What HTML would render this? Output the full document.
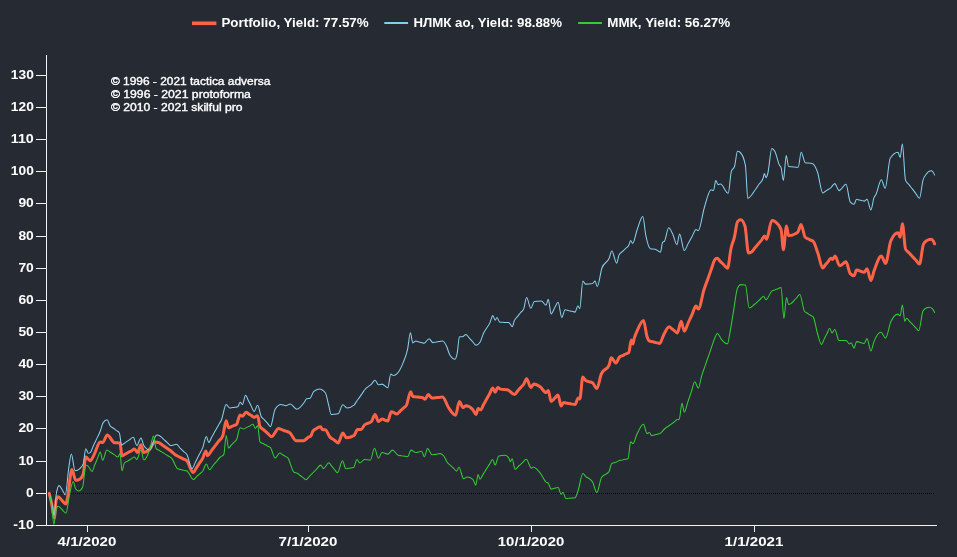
<!DOCTYPE html>
<html lang="en"><head><meta charset="utf-8"><title>Portfolio yield chart</title>
<style>html,body{margin:0;padding:0;background:#262a33;overflow:hidden}</style></head>
<body>
<svg width="957" height="557" viewBox="0 0 957 557" style="display:block;font-family:'Liberation Sans',sans-serif">
<rect width="957" height="557" fill="#262a33"/>
<g font-size="13.5" font-weight="bold" fill="#fff">
<rect x="192" y="21.5" width="24.4" height="3.6" fill="tomato"/>
<text x="221.4" y="26.9" textLength="147.3" lengthAdjust="spacingAndGlyphs">Portfolio, Yield: 77.57%</text>
<rect x="384.3" y="22" width="23.8" height="2" fill="skyblue"/>
<text x="413.5" y="26.9" textLength="148.4" lengthAdjust="spacingAndGlyphs">НЛМК ао, Yield: 98.88%</text>
<rect x="578.1" y="22" width="23.8" height="2" fill="limegreen"/>
<text x="607.3" y="26.9" textLength="122.9" lengthAdjust="spacingAndGlyphs">ММК, Yield: 56.27%</text>
</g>
<g font-size="10.5" fill="#fff" stroke="#fff" stroke-width="0.35">
<text x="110.9" y="85" textLength="159.4" lengthAdjust="spacingAndGlyphs">© 1996 - 2021 tactica adversa</text>
<text x="110.9" y="98" textLength="140" lengthAdjust="spacingAndGlyphs">© 1996 - 2021 protoforma</text>
<text x="110.9" y="111" textLength="131.6" lengthAdjust="spacingAndGlyphs">© 2010 - 2021 skilful pro</text>
</g>
<g stroke="#f2f2f2" stroke-width="1" shape-rendering="crispEdges">
<line x1="46.5" x2="46.5" y1="55" y2="526"/>
<line x1="36" x2="937" y1="525.5" y2="525.5"/>
<line x1="36" x2="46" y1="525.5" y2="525.5"/>
<line x1="36" x2="46" y1="493.5" y2="493.5"/>
<line x1="36" x2="46" y1="461.5" y2="461.5"/>
<line x1="36" x2="46" y1="428.5" y2="428.5"/>
<line x1="36" x2="46" y1="396.5" y2="396.5"/>
<line x1="36" x2="46" y1="364.5" y2="364.5"/>
<line x1="36" x2="46" y1="332.5" y2="332.5"/>
<line x1="36" x2="46" y1="300.5" y2="300.5"/>
<line x1="36" x2="46" y1="268.5" y2="268.5"/>
<line x1="36" x2="46" y1="236.5" y2="236.5"/>
<line x1="36" x2="46" y1="203.5" y2="203.5"/>
<line x1="36" x2="46" y1="171.5" y2="171.5"/>
<line x1="36" x2="46" y1="139.5" y2="139.5"/>
<line x1="36" x2="46" y1="107.5" y2="107.5"/>
<line x1="36" x2="46" y1="75.5" y2="75.5"/>
<line x1="87.5" x2="87.5" y1="526" y2="532"/>
<line x1="308.5" x2="308.5" y1="526" y2="532"/>
<line x1="531.5" x2="531.5" y1="526" y2="532"/>
<line x1="754.5" x2="754.5" y1="526" y2="532"/>
</g>
<g font-size="12.5" font-weight="bold" fill="#fff">
<text x="13.3" y="528.7" textLength="20.5" lengthAdjust="spacingAndGlyphs">-10</text>
<text x="26.1" y="496.6" textLength="7.7" lengthAdjust="spacingAndGlyphs">0</text>
<text x="18.4" y="464.5" textLength="15.4" lengthAdjust="spacingAndGlyphs">10</text>
<text x="18.4" y="432.3" textLength="15.4" lengthAdjust="spacingAndGlyphs">20</text>
<text x="18.4" y="400.2" textLength="15.4" lengthAdjust="spacingAndGlyphs">30</text>
<text x="18.4" y="368.0" textLength="15.4" lengthAdjust="spacingAndGlyphs">40</text>
<text x="18.4" y="335.9" textLength="15.4" lengthAdjust="spacingAndGlyphs">50</text>
<text x="18.4" y="303.8" textLength="15.4" lengthAdjust="spacingAndGlyphs">60</text>
<text x="18.4" y="271.6" textLength="15.4" lengthAdjust="spacingAndGlyphs">70</text>
<text x="18.4" y="239.5" textLength="15.4" lengthAdjust="spacingAndGlyphs">80</text>
<text x="18.4" y="207.3" textLength="15.4" lengthAdjust="spacingAndGlyphs">90</text>
<text x="10.8" y="175.2" textLength="23" lengthAdjust="spacingAndGlyphs">100</text>
<text x="10.8" y="143.1" textLength="23" lengthAdjust="spacingAndGlyphs">110</text>
<text x="10.8" y="110.9" textLength="23" lengthAdjust="spacingAndGlyphs">120</text>
<text x="10.8" y="78.8" textLength="23" lengthAdjust="spacingAndGlyphs">130</text>
<text x="57.6" y="546" textLength="58.8" lengthAdjust="spacingAndGlyphs">4/1/2020</text>
<text x="278.6" y="546" textLength="58.8" lengthAdjust="spacingAndGlyphs">7/1/2020</text>
<text x="497.8" y="546" textLength="66.5" lengthAdjust="spacingAndGlyphs">10/1/2020</text>
<text x="724.6" y="546" textLength="58.8" lengthAdjust="spacingAndGlyphs">1/1/2021</text>
</g>
<line x1="47" x2="935" y1="493.5" y2="493.5" stroke="#000" stroke-width="1" stroke-dasharray="1,1" shape-rendering="crispEdges"/>
<g fill="none" stroke-linejoin="round" stroke-linecap="round">
<path d="M49.2,493.4C50.0,496.6,50.7,499.4,51.5,503.0C52.4,507.4,53.4,517.9,54.3,517.9C54.9,517.9,55.6,502.0,56.2,500.0C56.9,497.9,57.5,496.8,58.2,496.8C59.5,496.8,60.7,499.3,62.0,500.5C63.3,501.8,64.7,504.1,66.0,504.1C66.5,504.1,67.0,500.2,67.5,497.8C69.0,490.8,70.4,469.6,71.9,469.6C73.2,469.6,74.4,480.3,75.7,480.3C77.2,480.3,78.6,479.9,80.1,479.0C81.1,478.4,82.2,477.3,83.2,474.0C84.1,471.2,84.9,457.0,85.8,457.0C87.3,457.0,88.7,460.8,90.2,460.8C91.4,460.8,92.7,457.3,93.9,455.1C96.0,451.4,98.1,441.9,100.2,441.9C101.0,441.9,101.9,442.6,102.7,442.6C104.2,442.6,105.7,435.0,107.2,435.0C109.7,435.0,112.1,442.4,114.6,442.7C116.4,442.9,118.2,442.8,120.0,443.0C120.7,443.1,121.3,456.0,122.0,456.0C123.0,456.0,124.1,454.8,125.1,454.2C126.2,453.7,127.2,453.1,128.2,452.5C129.3,451.9,130.3,451.3,131.4,450.8C132.4,450.2,133.5,449.0,134.5,449.0C135.5,449.0,136.5,452.5,137.5,452.5C138.7,452.5,139.8,444.8,141.0,444.8C141.9,444.8,142.9,452.5,143.8,452.5C145.7,452.5,147.7,451.3,149.6,449.4C151.3,447.7,153.1,442.0,154.8,442.0C156.2,442.0,157.6,442.2,159.0,442.7C160.3,443.1,161.6,444.5,162.9,445.4C164.2,446.3,165.4,447.2,166.7,448.1C168.0,449.0,169.3,449.8,170.6,450.8C172.2,452.0,173.7,453.7,175.3,454.8C176.6,455.7,177.9,456.2,179.2,456.9C180.5,457.6,181.8,458.2,183.1,458.9C184.4,459.6,185.7,459.6,187.0,461.0C189.1,463.2,191.1,472.6,193.2,472.6C194.3,472.6,195.3,469.4,196.4,467.8C197.5,466.2,198.5,464.5,199.6,462.9C200.7,461.3,201.7,460.1,202.8,458.1C203.8,456.1,204.9,451.1,205.9,451.1C206.4,451.1,207.0,455.8,207.5,455.8C208.8,455.8,210.0,452.5,211.3,450.9C212.6,449.2,213.8,447.6,215.1,445.9C216.4,444.2,217.6,442.6,218.9,440.9C220.2,439.3,221.4,439.3,222.7,436.0C223.9,433.0,225.0,420.8,226.2,420.8C227.0,420.8,227.7,427.8,228.5,427.8C229.4,427.8,230.3,427.0,231.2,426.6C232.1,426.2,233.0,425.9,233.9,425.5C234.8,425.1,235.7,425.1,236.6,424.3C237.8,423.3,238.9,415.0,240.1,415.0C240.9,415.0,241.7,416.2,242.5,416.2C243.7,416.2,244.8,412.2,246.0,412.2C246.9,412.2,247.8,413.3,248.7,413.9C249.6,414.5,250.5,415.0,251.4,415.6C252.3,416.2,253.2,417.3,254.1,417.3C255.3,417.3,256.4,415.7,257.6,415.7C258.4,415.7,259.2,425.2,260.0,426.6C261.3,428.8,262.6,428.8,263.9,430.0C265.2,431.1,266.4,432.2,267.7,433.3C269.0,434.5,270.3,436.7,271.6,436.7C273.9,436.7,276.3,428.5,278.6,428.5C279.8,428.5,281.0,429.4,282.2,429.8C283.4,430.3,284.7,430.7,285.9,431.2C287.1,431.6,288.3,431.7,289.5,432.5C291.8,434.0,294.0,440.8,296.3,440.8C298.7,440.8,301.1,440.8,303.5,440.8C305.0,440.8,306.5,438.5,308.0,437.5C309.0,436.8,310.0,436.9,311.0,435.7C311.6,435.0,312.1,432.5,312.7,431.5C313.8,429.6,314.9,429.4,316.0,428.7C317.5,427.7,319.0,426.7,320.5,426.7C321.2,426.7,322.0,429.8,322.7,429.8C323.6,429.8,324.4,429.7,325.3,429.7C326.9,429.7,328.4,435.5,330.0,437.1C330.9,438.0,331.8,438.4,332.7,439.1C333.6,439.7,334.5,440.4,335.4,441.0C336.3,441.7,337.2,443.0,338.1,443.0C339.7,443.0,341.2,433.1,342.8,433.1C344.0,433.1,345.3,437.8,346.5,437.8C349.0,437.8,351.5,437.0,354.0,435.5C355.2,434.8,356.3,429.6,357.5,429.6C358.7,429.6,359.8,429.6,361.0,429.6C362.2,429.6,363.3,426.2,364.5,425.0C366.8,422.7,369.2,423.8,371.5,421.5C372.7,420.3,373.8,414.5,375.0,414.5C376.2,414.5,377.3,421.5,378.5,421.5C379.7,421.5,380.8,419.1,382.0,419.1C383.9,419.1,385.9,421.0,387.8,421.0C389.0,421.0,390.1,411.7,391.3,411.7C393.2,411.7,395.2,414.0,397.1,414.0C398.1,414.0,399.2,412.0,400.2,411.0C401.3,410.0,402.3,409.1,403.4,408.1C404.4,407.1,405.5,407.1,406.5,405.1C407.9,402.4,409.3,391.8,410.7,391.8C411.4,391.8,412.1,396.3,412.8,396.5C413.9,396.8,415.0,396.8,416.1,396.9C417.2,397.0,418.4,397.2,419.5,397.3C420.6,397.4,421.7,397.4,422.8,397.7C423.6,397.9,424.3,399.3,425.1,399.3C426.1,399.3,427.2,394.6,428.2,394.6C429.5,394.6,430.8,398.1,432.1,398.1C433.3,398.1,434.4,397.9,435.6,397.7C436.8,397.6,437.9,397.5,439.1,397.4C440.3,397.2,441.4,397.0,442.6,397.0C444.6,397.0,446.5,404.6,448.5,407.5C450.8,410.9,453.2,415.2,455.5,415.2C456.8,415.2,458.1,401.6,459.4,401.6C460.6,401.6,461.9,407.5,463.1,407.5C464.0,407.5,465.0,405.8,465.9,405.8C468.2,405.8,470.6,407.1,472.9,409.8C473.9,411.0,475.0,414.5,476.0,414.5C476.7,414.5,477.4,408.6,478.1,408.6C478.9,408.6,479.8,409.8,480.6,409.8C481.6,409.8,482.6,406.2,483.7,404.4C484.7,402.5,485.7,400.7,486.7,398.9C487.7,397.1,488.7,395.3,489.8,393.4C490.8,391.6,491.8,388.0,492.8,388.0C493.6,388.0,494.3,392.2,495.1,392.2C496.0,392.2,496.9,387.5,497.8,387.5C498.7,387.5,499.6,388.9,500.5,389.1C502.8,389.6,505.2,389.3,507.5,389.8C509.8,390.3,512.2,394.5,514.5,394.5C515.5,394.5,516.6,392.2,517.6,391.0C518.6,389.8,519.7,388.7,520.7,387.5C521.7,386.3,522.8,385.6,523.8,384.0C524.7,382.6,525.7,378.8,526.6,378.8C528.0,378.8,529.4,387.5,530.8,387.5C531.8,387.5,532.8,384.0,533.8,384.0C535.9,384.0,538.0,385.3,540.1,386.8C542.1,388.2,544.0,392.6,546.0,392.6C546.8,392.6,547.5,390.5,548.3,390.5C549.2,390.5,550.2,401.5,551.1,401.5C552.3,401.5,553.6,399.2,554.8,398.0C555.9,397.0,557.0,394.9,558.1,394.9C559.1,394.9,560.1,406.1,561.1,406.1C561.9,406.1,562.7,402.6,563.5,402.6C564.8,402.6,566.1,403.0,567.4,403.2C568.7,403.4,569.9,403.7,571.2,403.9C572.5,404.1,573.8,404.5,575.1,404.5C576.1,404.5,577.2,398.0,578.2,398.0C578.7,398.0,579.3,399.1,579.8,399.1C580.8,399.1,581.8,377.0,582.8,377.0C583.7,377.0,584.7,379.9,585.6,380.5C587.9,382.0,590.3,381.3,592.6,382.8C594.0,383.7,595.4,388.6,596.8,388.6C598.4,388.6,599.9,376.9,601.5,373.5C604.0,368.0,606.5,370.8,609.0,365.3C609.8,363.6,610.5,357.8,611.3,357.8C612.9,357.8,614.4,363.0,616.0,363.0C617.1,363.0,618.3,358.2,619.4,357.1C620.4,356.1,621.5,356.1,622.5,355.6C623.6,355.1,624.6,354.5,625.7,354.0C626.7,353.5,627.8,353.5,628.8,352.5C629.6,351.7,630.5,340.0,631.3,340.0C631.8,340.0,632.4,344.0,632.9,344.0C633.3,344.0,633.8,340.1,634.2,338.5C635.1,335.2,636.0,333.6,636.9,331.5C639.1,326.4,641.3,320.5,643.5,320.5C644.7,320.5,645.8,333.0,647.0,336.5C647.8,338.8,648.5,340.6,649.3,341.0C650.5,341.5,651.6,341.5,652.8,341.8C654.0,342.1,655.1,342.3,656.3,342.6C657.5,342.9,658.6,343.4,659.8,343.4C661.0,343.4,662.1,338.0,663.3,335.7C665.3,331.9,667.2,326.7,669.2,326.7C670.1,326.7,671.0,328.1,671.9,328.8C672.8,329.5,673.7,330.2,674.6,330.9C675.5,331.6,676.4,333.0,677.3,333.0C678.6,333.0,679.9,321.3,681.2,321.3C682.2,321.3,683.3,331.2,684.3,331.2C685.6,331.2,686.9,325.6,688.2,322.8C689.5,320.0,690.8,317.3,692.1,314.5C693.4,311.7,694.7,306.1,696.0,306.1C696.8,306.1,697.5,309.1,698.3,309.1C700.2,309.1,702.2,295.1,704.1,289.3C705.3,285.8,706.4,282.8,707.6,279.6C708.8,276.3,709.9,273.1,711.1,269.8C712.3,266.6,713.4,261.9,714.6,260.1C715.4,258.9,716.2,258.3,717.0,258.3C718.2,258.3,719.3,260.5,720.5,261.6C721.7,262.7,722.8,263.9,724.0,265.0C725.2,266.1,726.3,268.3,727.5,268.3C728.7,268.3,729.8,253.8,731.0,248.5C732.2,243.2,733.3,241.8,734.5,236.8C735.5,232.5,736.5,222.9,737.5,221.7C738.6,220.4,739.7,219.8,740.8,219.8C742.2,219.8,743.6,222.0,745.0,226.3C746.2,229.9,747.3,253.1,748.5,253.1C749.5,253.1,750.5,252.7,751.5,252.0C752.6,251.2,753.7,249.4,754.8,248.0C755.9,246.7,757.0,245.4,758.1,244.1C759.3,242.7,760.4,241.4,761.5,240.1C762.6,238.7,763.7,236.1,764.8,236.1C765.4,236.1,766.0,239.2,766.6,239.2C768.3,239.2,770.1,220.5,771.8,220.5C773.0,220.5,774.1,220.9,775.3,221.7C777.2,223.0,779.2,224.4,781.1,229.8C781.9,231.9,782.6,249.7,783.4,249.7C784.4,249.7,785.5,225.9,786.5,225.9C787.2,225.9,787.9,235.7,788.6,235.7C791.2,235.7,793.7,234.9,796.3,233.3C796.9,232.9,797.6,232.5,798.2,231.5C799.1,230.0,800.1,224.5,801.0,224.5C802.4,224.5,803.8,235.8,805.2,237.3C806.1,238.2,807.0,238.2,807.9,238.7C808.8,239.2,809.7,239.6,810.6,240.1C811.5,240.6,812.4,240.6,813.3,241.5C814.9,243.1,816.4,249.2,818.0,253.6C819.6,258.0,821.1,268.1,822.7,268.1C823.6,268.1,824.5,265.9,825.4,264.8C826.3,263.7,827.2,262.7,828.1,261.6C829.0,260.5,829.9,258.3,830.8,258.3C831.4,258.3,832.1,259.5,832.7,259.5C833.5,259.5,834.2,256.0,835.0,256.0C836.6,256.0,838.1,265.8,839.7,265.8C841.8,265.8,843.9,261.8,846.0,261.8C847.4,261.8,848.8,271.8,850.2,273.5C851.5,275.0,852.8,275.8,854.1,275.8C854.9,275.8,855.7,270.0,856.5,270.0C859.1,270.0,861.6,272.3,864.2,272.3C865.1,272.3,866.1,268.8,867.0,268.8C868.3,268.8,869.6,280.5,870.9,280.5C871.9,280.5,873.0,273.9,874.0,271.1C876.5,264.3,878.9,256.0,881.4,256.0C882.8,256.0,884.2,263.4,885.6,263.4C887.3,263.4,889.1,244.7,890.8,240.8C893.2,235.4,895.6,232.7,898.0,232.7C898.7,232.7,899.4,237.3,900.1,237.3C900.9,237.3,901.6,223.8,902.4,223.8C903.4,223.8,904.5,246.8,905.5,249.0C906.7,251.5,907.8,251.5,909.0,252.8C910.2,254.0,911.3,255.3,912.5,256.6C913.7,257.8,914.8,259.1,916.0,260.3C917.2,261.6,918.3,264.1,919.5,264.1C920.8,264.1,922.1,247.2,923.4,244.3C924.4,242.0,925.5,241.5,926.5,240.8C928.0,239.7,929.6,239.2,931.1,239.2C931.7,239.2,932.4,239.6,933.0,240.5C933.5,241.2,934.1,242.7,934.6,243.8" stroke="tomato" stroke-width="3"/>
<path d="M49.2,493.4C50.0,496.3,50.7,498.8,51.5,502.0C52.4,505.9,53.4,515.3,54.3,515.3C55.0,515.3,55.6,498.0,56.3,494.0C57.2,488.4,58.2,485.6,59.1,485.6C60.2,485.6,61.2,488.4,62.3,490.0C63.3,491.5,64.3,494.7,65.3,494.7C66.5,494.7,67.6,475.2,68.8,467.7C69.6,462.3,70.5,453.9,71.3,453.9C72.6,453.9,73.8,470.8,75.1,470.8C76.8,470.8,78.4,470.0,80.1,468.3C81.1,467.3,82.2,466.8,83.2,463.9C84.1,461.4,84.9,448.8,85.8,448.8C86.6,448.8,87.5,453.2,88.3,453.2C88.9,453.2,89.6,453.0,90.2,452.6C91.3,451.9,92.4,447.9,93.5,445.5C94.6,443.1,95.8,440.8,96.9,438.4C98.0,436.0,99.1,434.2,100.2,431.3C101.1,428.9,102.1,424.3,103.0,422.9C104.4,420.8,105.8,419.8,107.2,419.8C108.1,419.8,109.1,424.3,110.0,425.7C111.0,427.2,112.1,427.3,113.1,428.0C114.1,428.8,115.2,429.6,116.2,430.4C117.2,431.1,118.3,431.1,119.3,432.7C120.1,433.9,120.8,445.0,121.6,445.0C122.9,445.0,124.2,443.3,125.5,442.4C126.8,441.6,128.1,440.7,129.4,439.9C130.7,439.0,132.0,437.3,133.3,437.3C134.5,437.3,135.6,445.5,136.8,445.5C138.2,445.5,139.6,438.0,141.0,438.0C141.9,438.0,142.9,444.1,143.8,445.5C145.7,448.5,147.7,450.0,149.6,450.0C151.9,450.0,154.3,435.0,156.6,435.0C157.7,435.0,158.9,435.3,160.0,436.0C161.2,436.7,162.4,438.1,163.5,439.2C164.7,440.2,165.9,441.3,167.1,442.3C168.2,443.4,169.4,445.5,170.6,445.5C172.5,445.5,174.5,444.3,176.4,444.3C177.6,444.3,178.8,446.6,179.9,447.8C181.1,449.0,182.3,450.1,183.5,451.3C184.6,452.5,185.8,452.8,187.0,454.8C188.7,457.7,190.3,468.7,192.0,468.7C193.2,468.7,194.4,464.0,195.6,461.7C196.8,459.3,198.0,457.0,199.2,454.6C200.4,452.3,201.6,450.7,202.8,447.6C204.0,444.6,205.1,436.4,206.3,436.4C207.1,436.4,207.9,442.5,208.7,442.5C209.8,442.5,210.8,438.7,211.9,436.8C213.0,434.9,214.0,433.0,215.1,431.1C216.2,429.2,217.2,427.3,218.3,425.4C219.4,423.5,220.4,422.2,221.5,419.7C223.1,416.0,224.6,404.5,226.2,404.5C227.4,404.5,228.5,408.0,229.7,408.0C230.6,408.0,231.5,407.7,232.4,407.6C233.3,407.5,234.2,407.3,235.1,407.2C236.0,407.1,236.9,407.1,237.8,406.8C238.6,406.6,239.3,402.2,240.1,402.2C240.9,402.2,241.7,404.5,242.5,404.5C243.5,404.5,244.5,395.2,245.5,395.2C246.5,395.2,247.4,398.8,248.4,400.6C249.3,402.4,250.3,404.3,251.2,406.1C252.2,407.9,253.1,411.5,254.1,411.5C255.3,411.5,256.4,405.2,257.6,405.2C258.8,405.2,259.9,413.8,261.1,416.2C262.1,418.4,263.2,418.5,264.2,419.7C265.3,420.8,266.3,422.0,267.4,423.1C268.4,424.3,269.5,426.6,270.5,426.6C272.0,426.6,273.6,411.6,275.1,409.2C277.1,406.1,279.0,404.5,281.0,404.5C282.5,404.5,284.1,405.7,285.6,405.7C287.2,405.7,288.7,404.0,290.3,404.0C292.5,404.0,294.6,409.2,296.8,409.2C299.3,409.2,301.8,405.7,304.3,402.2C305.1,401.1,305.8,398.9,306.6,398.7C307.8,398.4,308.9,398.5,310.1,398.2C311.3,397.9,312.4,392.8,313.6,391.7C315.5,389.8,317.5,388.9,319.4,388.9C321.4,388.9,323.3,390.2,325.3,392.8C326.5,394.3,327.6,401.3,328.8,405.7C329.6,408.6,330.3,414.5,331.1,414.5C333.4,414.5,335.8,414.3,338.1,413.8C339.7,413.5,341.2,404.8,342.8,404.8C344.2,404.8,345.6,408.0,347.0,408.0C349.3,408.0,351.7,407.0,354.0,405.1C354.9,404.3,355.8,402.5,356.7,401.2C357.6,399.9,358.6,398.7,359.5,397.4C360.4,396.1,361.3,394.8,362.2,393.5C363.0,392.4,363.7,391.0,364.5,390.0C366.8,386.8,369.2,386.5,371.5,384.1C372.7,382.9,373.8,380.2,375.0,380.2C376.2,380.2,377.3,384.8,378.5,384.8C379.7,384.8,380.8,384.1,382.0,384.1C383.9,384.1,385.9,387.6,387.8,387.6C388.8,387.6,389.8,374.1,390.8,374.1C391.7,374.1,392.7,375.5,393.6,375.5C394.8,375.5,395.9,374.8,397.1,373.6C399.1,371.6,401.0,368.0,403.0,363.1C404.5,359.3,406.1,356.5,407.6,349.2C408.5,344.7,409.5,332.8,410.4,332.8C411.2,332.8,412.0,342.9,412.8,342.9C413.8,342.9,414.8,341.0,415.8,341.0C416.7,341.0,417.6,341.5,418.5,341.8C419.4,342.0,420.4,342.3,421.3,342.5C422.2,342.8,423.1,343.3,424.0,343.3C425.7,343.3,427.4,338.7,429.1,338.7C430.3,338.7,431.6,342.6,432.8,342.6C433.9,342.6,435.0,342.2,436.1,342.1C437.2,341.9,438.2,341.7,439.3,341.5C440.4,341.4,441.5,341.0,442.6,341.0C444.0,341.0,445.4,343.7,446.8,346.8C447.7,348.9,448.7,352.9,449.6,354.5C451.4,357.6,453.2,359.2,455.0,359.2C455.8,359.2,456.5,356.8,457.3,352.7C458.0,349.0,458.7,336.8,459.4,336.8C460.4,336.8,461.4,336.8,462.4,336.8C463.6,336.8,464.7,334.5,465.9,334.5C467.0,334.5,468.1,336.9,469.3,338.1C470.4,339.3,471.5,340.4,472.6,341.6C473.8,342.8,474.9,345.2,476.0,345.2C477.3,345.2,478.7,344.2,480.0,342.2C481.1,340.5,482.3,336.1,483.4,333.5C485.6,328.5,487.8,327.5,490.0,322.6C490.9,320.5,491.9,315.6,492.8,315.6C493.6,315.6,494.3,320.3,495.1,320.3C495.7,320.3,496.4,317.5,497.0,317.5C497.9,317.5,498.9,322.1,499.8,322.2C500.8,322.3,501.8,322.3,502.8,322.3C503.8,322.4,504.7,322.4,505.7,322.5C506.7,322.5,507.7,322.5,508.7,322.6C509.9,322.7,511.0,326.6,512.2,326.6C513.0,326.6,513.7,321.9,514.5,320.3C515.5,318.1,516.6,317.7,517.6,316.4C518.6,315.1,519.7,313.8,520.7,312.5C521.7,311.2,522.8,311.2,523.8,308.6C524.7,306.3,525.7,297.4,526.6,297.4C528.0,297.4,529.4,308.2,530.8,308.2C532.0,308.2,533.1,301.8,534.3,301.6C536.6,301.1,539.0,300.9,541.3,300.9C542.9,300.9,544.4,305.1,546.0,305.1C546.8,305.1,547.5,299.3,548.3,299.3C549.2,299.3,550.2,314.0,551.1,314.0C552.3,314.0,553.6,309.5,554.8,307.5C555.9,305.7,557.0,302.3,558.1,302.3C559.3,302.3,560.6,317.5,561.8,317.5C562.9,317.5,564.0,309.8,565.1,309.8C566.2,309.8,567.3,310.3,568.4,310.6C569.5,310.8,570.7,311.1,571.8,311.3C572.9,311.6,574.0,312.1,575.1,312.1C576.0,312.1,577.0,305.8,577.9,305.8C578.5,305.8,579.2,308.6,579.8,308.6C580.8,308.6,581.8,281.1,582.8,281.1C583.7,281.1,584.7,284.1,585.6,284.1C587.9,284.1,590.3,283.9,592.6,283.4C593.4,283.2,594.2,281.1,595.0,281.1C595.8,281.1,596.5,286.5,597.3,286.5C598.9,286.5,600.4,272.0,602.0,267.8C604.3,261.6,606.7,263.9,609.0,258.5C609.9,256.4,610.9,251.0,611.8,251.0C613.4,251.0,615.1,263.1,616.7,263.1C617.5,263.1,618.2,256.5,619.0,255.0C620.1,252.8,621.2,252.8,622.3,251.7C623.4,250.6,624.4,249.6,625.5,248.5C626.6,247.4,627.7,247.4,628.8,245.2C629.4,244.0,630.0,240.5,630.6,240.5C631.3,240.5,632.0,243.3,632.7,243.3C634.1,243.3,635.5,234.4,636.9,230.5C638.9,225.1,640.8,216.5,642.8,216.5C643.8,216.5,644.8,230.4,645.8,235.3C647.4,243.0,648.9,248.5,650.5,248.8C652.1,249.1,653.6,249.0,655.2,249.3C657.0,249.7,658.7,252.1,660.5,252.1C661.2,252.1,661.9,243.2,662.6,242.3C663.2,241.5,663.9,241.9,664.5,241.1C665.9,239.3,667.3,227.8,668.7,227.8C670.0,227.8,671.4,231.4,672.7,234.1C674.1,236.9,675.5,244.6,676.9,244.6C677.8,244.6,678.7,234.1,679.6,234.1C681.2,234.1,682.7,250.5,684.3,250.5C685.6,250.5,686.9,245.8,688.2,243.5C689.5,241.2,690.8,238.8,692.1,236.5C693.4,234.2,694.7,229.5,696.0,229.5C696.8,229.5,697.5,230.6,698.3,230.6C700.2,230.6,702.2,214.9,704.1,208.5C706.4,200.8,708.8,189.8,711.1,189.8C711.9,189.8,712.7,190.5,713.5,190.5C714.3,190.5,715.0,180.5,715.8,180.5C716.6,180.5,717.3,184.7,718.1,184.7C718.9,184.7,719.7,184.0,720.5,184.0C723.1,184.0,725.6,193.3,728.2,193.3C729.3,193.3,730.3,174.4,731.4,171.2C732.4,168.1,733.5,169.6,734.5,166.5C735.5,163.5,736.5,151.3,737.5,151.3C738.4,151.3,739.4,151.7,740.3,152.5C742.0,154.0,743.7,156.8,745.4,165.3C746.2,169.3,747.0,198.4,747.8,198.4C749.2,198.4,750.6,196.2,752.0,194.5C753.2,193.0,754.4,190.9,755.7,189.2C756.9,187.4,758.1,185.6,759.3,183.8C760.6,182.1,761.8,182.1,763.0,178.5C763.5,177.1,763.9,173.5,764.4,173.5C764.9,173.5,765.5,177.7,766.0,177.7C766.6,177.7,767.2,175.6,767.8,173.5C769.1,168.8,770.5,148.5,771.8,148.5C772.8,148.5,773.8,149.6,774.8,151.3C776.4,154.0,777.9,162.4,779.5,165.3C780.0,166.3,780.6,166.1,781.1,167.7C781.9,170.0,782.6,180.5,783.4,180.5C784.3,180.5,785.3,155.5,786.2,155.5C787.0,155.5,787.8,166.4,788.6,166.5C791.2,167.0,793.7,167.0,796.3,167.2C796.9,167.2,797.6,167.3,798.2,167.3C799.2,167.3,800.2,152.2,801.2,152.2C802.5,152.2,803.9,162.4,805.2,162.7C807.5,163.2,809.9,162.9,812.2,163.4C814.0,163.8,815.7,167.0,817.5,172.0C819.2,176.9,821.0,193.0,822.7,193.0C823.6,193.0,824.5,191.8,825.4,191.3C826.3,190.7,827.2,190.1,828.1,189.5C829.0,189.0,829.9,188.5,830.8,187.8C832.1,186.7,833.5,183.6,834.8,183.6C836.2,183.6,837.6,190.6,839.0,190.6C841.3,190.6,843.7,184.3,846.0,184.3C847.4,184.3,848.8,200.1,850.2,201.8C851.5,203.4,852.8,204.2,854.1,204.2C854.9,204.2,855.7,199.3,856.5,199.3C857.4,199.3,858.3,199.7,859.2,199.9C860.1,200.1,861.0,200.3,861.9,200.5C862.8,200.7,863.7,201.1,864.6,201.1C865.4,201.1,866.2,199.3,867.0,199.3C868.3,199.3,869.6,210.0,870.9,210.0C871.9,210.0,873.0,200.1,874.0,197.6C874.6,196.1,875.2,195.9,875.8,194.8C877.7,191.4,879.5,179.7,881.4,179.7C882.7,179.7,883.9,188.3,885.2,188.3C886.9,188.3,888.6,160.6,890.3,158.0C892.9,154.1,895.4,152.2,898.0,152.2C898.7,152.2,899.4,157.5,900.1,157.5C900.9,157.5,901.6,144.0,902.4,144.0C903.4,144.0,904.5,177.4,905.5,180.1C906.7,183.1,907.8,183.1,909.0,184.7C910.2,186.2,911.3,187.7,912.5,189.2C913.7,190.7,914.8,192.2,916.0,193.8C917.2,195.3,918.3,198.3,919.5,198.3C920.7,198.3,921.8,184.1,923.0,180.1C924.0,176.7,925.0,175.9,926.0,174.5C927.7,172.0,929.4,170.8,931.1,170.8C931.7,170.8,932.4,171.2,933.0,172.0C933.5,172.7,934.1,174.0,934.6,175.0" stroke="skyblue" stroke-width="1.05"/>
<path d="M49.2,493.4C50.0,497.3,50.7,500.0,51.5,505.0C52.3,510.2,53.1,524.4,53.9,524.4C54.6,524.4,55.3,514.0,56.0,511.0C56.7,507.9,57.5,506.3,58.2,506.3C59.5,506.3,60.7,508.4,62.0,509.5C63.3,510.7,64.7,513.2,66.0,513.2C67.1,513.2,68.3,500.4,69.4,495.3C70.7,489.6,71.9,481.5,73.2,481.5C74.0,481.5,74.9,488.0,75.7,489.0C76.7,490.3,77.8,490.9,78.8,490.9C80.1,490.9,81.3,489.7,82.6,487.2C83.7,485.1,84.7,465.2,85.8,465.2C86.6,465.2,87.5,465.7,88.3,466.4C89.5,467.4,90.8,471.5,92.0,471.5C92.9,471.5,93.8,467.2,94.7,465.0C95.6,462.8,96.6,460.7,97.5,458.5C98.4,456.3,99.3,452.0,100.2,452.0C101.0,452.0,101.9,460.2,102.7,460.2C104.1,460.2,105.4,449.9,106.8,449.9C108.0,449.9,109.3,451.5,110.5,452.3C111.8,453.1,113.0,453.8,114.3,454.6C115.5,455.4,116.8,457.0,118.0,457.0C118.7,457.0,119.3,453.6,120.0,453.6C120.7,453.6,121.3,470.7,122.0,470.7C122.8,470.7,123.6,464.0,124.4,463.0C125.5,461.7,126.6,461.7,127.8,461.0C128.9,460.3,130.0,459.7,131.1,459.0C132.3,458.3,133.4,457.0,134.5,457.0C135.3,457.0,136.0,459.5,136.8,459.5C138.2,459.5,139.6,450.0,141.0,450.0C141.9,450.0,142.9,460.0,143.8,460.0C145.7,460.0,147.7,455.4,149.6,450.0C150.9,446.3,152.3,436.0,153.6,436.0C154.4,436.0,155.2,447.3,156.0,448.3C157.0,449.6,158.0,449.6,159.1,450.2C160.1,450.9,161.1,451.5,162.2,452.1C163.2,452.8,164.2,453.4,165.2,454.1C166.3,454.7,167.3,455.3,168.3,456.0C169.5,456.7,170.6,457.0,171.8,458.3C173.7,460.4,175.7,467.9,177.6,468.8C178.6,469.3,179.7,469.3,180.7,469.5C181.8,469.8,182.8,470.0,183.9,470.3C184.9,470.5,186.0,470.5,187.0,471.0C189.2,472.0,191.3,479.5,193.5,479.5C194.5,479.5,195.6,477.6,196.6,476.7C197.6,475.7,198.7,474.8,199.7,473.8C200.7,472.9,201.8,472.5,202.8,471.0C204.0,469.3,205.1,464.0,206.3,464.0C207.3,464.0,208.4,469.8,209.4,469.8C210.6,469.8,211.8,467.0,213.0,465.5C214.2,464.1,215.5,462.7,216.7,461.3C217.9,459.8,219.1,458.1,220.3,457.0C221.5,455.9,222.6,456.2,223.8,454.6C224.6,453.5,225.4,435.5,226.2,435.5C227.0,435.5,227.7,448.1,228.5,448.1C229.4,448.1,230.3,446.2,231.2,445.2C232.1,444.3,233.0,443.3,233.9,442.4C234.8,441.4,235.7,441.3,236.6,439.5C237.8,437.1,238.9,427.8,240.1,427.8C241.3,427.8,242.4,429.0,243.6,429.0C244.6,429.0,245.7,428.0,246.7,427.4C247.8,426.9,248.8,426.4,249.9,425.9C250.9,425.3,252.0,424.3,253.0,424.3C253.8,424.3,254.5,428.5,255.3,428.5C256.1,428.5,256.8,425.5,257.6,425.5C258.4,425.5,259.2,440.9,260.0,441.8C261.2,443.1,262.3,443.1,263.5,443.7C264.7,444.4,265.8,445.0,267.0,445.7C268.2,446.3,269.3,446.3,270.5,447.6C272.0,449.3,273.6,458.1,275.1,458.1C276.7,458.1,278.2,453.0,279.8,453.0C280.7,453.0,281.6,454.1,282.5,454.7C283.4,455.3,284.4,455.8,285.3,456.4C286.2,457.0,287.1,457.0,288.0,458.1C289.9,460.4,291.9,470.8,293.8,472.1C295.0,472.9,296.1,472.6,297.3,473.3C298.3,473.8,299.2,474.7,300.2,475.5C301.1,476.2,302.1,476.9,303.0,477.6C304.0,478.4,304.9,479.8,305.9,479.8C307.1,479.8,308.3,477.4,309.6,476.1C310.8,474.9,312.0,473.7,313.2,472.5C314.5,471.2,315.7,470.0,316.9,468.8C318.2,467.6,319.4,465.1,320.6,465.1C321.5,465.1,322.5,468.6,323.4,468.6C325.2,468.6,327.0,462.8,328.8,462.8C329.8,462.8,330.7,465.0,331.7,466.1C332.6,467.2,333.6,468.4,334.5,469.5C335.5,470.6,336.4,472.8,337.4,472.8C339.1,472.8,340.8,460.8,342.5,460.8C343.6,460.8,344.7,468.7,345.8,468.7C348.4,468.7,350.9,468.3,353.5,467.6C354.7,467.3,355.8,459.5,357.0,459.5C357.9,459.5,358.9,463.0,359.8,463.0C361.4,463.0,362.9,459.5,364.5,459.5C366.4,459.5,368.4,460.2,370.3,460.2C371.7,460.2,373.1,448.3,374.5,448.3C375.8,448.3,377.2,458.3,378.5,458.3C379.7,458.3,380.8,452.5,382.0,452.5C383.9,452.5,385.9,454.1,387.8,454.1C389.4,454.1,390.9,450.1,392.5,450.1C394.4,450.1,396.4,454.7,398.3,455.3C399.3,455.6,400.4,455.6,401.4,455.8C402.4,455.9,403.5,456.1,404.5,456.2C405.5,456.4,406.6,456.7,407.6,456.7C408.8,456.7,409.9,450.1,411.1,450.1C412.7,450.1,414.2,452.5,415.8,452.5C417.7,452.5,419.7,451.3,421.6,451.3C422.5,451.3,423.5,456.7,424.4,456.7C425.4,456.7,426.5,448.5,427.5,448.5C429.0,448.5,430.6,454.8,432.1,454.8C433.0,454.8,433.9,454.5,434.8,454.4C435.7,454.3,436.7,454.1,437.6,454.0C438.5,453.9,439.4,453.6,440.3,453.6C441.5,453.6,442.6,454.5,443.8,456.0C445.0,457.5,446.1,460.9,447.3,462.5C448.3,463.9,449.4,464.4,450.4,465.4C451.4,466.3,452.5,467.3,453.5,468.2C454.5,469.2,455.6,471.1,456.6,471.1C457.4,471.1,458.2,467.2,459.0,467.2C460.5,467.2,462.1,478.8,463.6,478.8C464.8,478.8,465.9,477.0,467.1,477.0C469.0,477.0,471.0,477.8,472.9,479.3C473.8,480.0,474.8,485.1,475.7,485.1C476.5,485.1,477.3,474.6,478.1,474.6C478.7,474.6,479.4,479.3,480.0,479.3C481.0,479.3,482.1,476.0,483.1,474.4C484.2,472.7,485.2,471.0,486.2,469.4C487.3,467.8,488.3,466.1,489.4,464.4C490.4,462.8,491.5,459.5,492.5,459.5C493.4,459.5,494.2,465.0,495.1,465.0C496.3,465.0,497.6,456.3,498.8,456.0C500.9,455.5,503.1,455.3,505.2,455.3C506.5,455.3,507.8,456.5,509.1,458.8C509.5,459.5,509.9,461.6,510.3,461.6C510.9,461.6,511.6,458.8,512.2,458.8C513.1,458.8,514.1,469.3,515.0,469.3C516.2,469.3,517.5,467.1,518.7,466.0C520.0,464.9,521.2,463.7,522.5,462.6C523.7,461.5,525.0,459.3,526.2,459.3C528.0,459.3,529.7,468.1,531.5,468.1C532.0,468.1,532.6,467.0,533.1,467.0C535.4,467.0,537.8,469.9,540.1,472.8C542.1,475.2,544.0,480.5,546.0,482.1C546.8,482.7,547.5,482.5,548.3,483.3C549.2,484.3,550.2,489.1,551.1,489.1C553.4,489.1,555.8,487.5,558.1,487.5C559.1,487.5,560.1,494.3,561.1,494.3C561.7,494.3,562.4,492.2,563.0,492.2C563.9,492.2,564.9,498.5,565.8,498.5C566.8,498.5,567.9,498.3,568.9,498.3C569.9,498.2,571.0,498.1,572.0,498.0C573.0,498.0,574.1,498.0,575.1,497.8C576.1,497.6,577.2,493.3,578.2,490.3C579.7,485.8,581.3,473.5,582.8,473.5C583.7,473.5,584.7,475.4,585.6,476.3C587.9,478.5,590.3,478.2,592.6,482.1C594.0,484.4,595.4,492.6,596.8,492.6C598.4,492.6,599.9,480.0,601.5,477.5C604.0,473.6,606.5,475.5,609.0,471.6C609.9,470.1,610.9,464.0,611.8,463.5C613.2,462.7,614.6,462.9,616.0,462.3C617.1,461.8,618.3,460.8,619.4,460.4C620.4,460.1,621.3,460.0,622.3,459.9C623.3,459.7,624.2,459.5,625.2,459.3C626.2,459.2,627.1,459.2,628.1,458.8C628.9,458.5,629.8,441.8,630.6,441.8C631.4,441.8,632.2,443.6,633.0,443.6C634.3,443.6,635.6,437.0,636.9,434.3C639.1,429.8,641.3,424.3,643.5,424.3C644.7,424.3,645.8,433.6,647.0,433.6C647.8,433.6,648.5,432.4,649.3,432.4C650.1,432.4,650.9,435.5,651.7,435.5C652.6,435.5,653.5,435.1,654.4,434.9C655.3,434.7,656.2,434.4,657.1,434.2C658.0,434.0,658.9,434.0,659.8,433.6C661.4,432.9,662.9,430.3,664.5,429.0C665.6,428.1,666.6,427.4,667.7,426.6C668.8,425.9,669.8,425.1,670.9,424.3C672.0,423.5,673.0,422.7,674.1,422.0C675.2,421.2,676.2,420.0,677.3,419.6C677.9,419.3,678.6,419.5,679.2,419.2C680.1,418.8,681.1,403.3,682.0,403.3C682.8,403.3,683.5,412.2,684.3,412.2C685.5,412.2,686.6,405.4,687.8,402.1C689.0,398.7,690.1,395.3,691.3,391.9C692.5,388.6,693.6,381.8,694.8,381.8C696.0,381.8,697.1,388.1,698.3,388.1C699.5,388.1,700.6,379.1,701.8,375.3C702.9,371.8,703.9,369.2,705.0,366.1C706.1,363.0,707.1,360.0,708.2,356.9C709.3,353.8,710.3,350.8,711.4,347.7C712.5,344.6,713.5,341.0,714.6,338.5C715.5,336.4,716.4,333.4,717.3,333.4C718.7,333.4,720.0,337.7,721.4,339.3C723.4,341.7,725.5,343.8,727.5,343.8C728.3,343.8,729.0,337.2,729.8,333.3C731.0,327.3,732.1,319.5,733.3,312.6C734.7,304.4,736.1,291.1,737.5,288.1C738.6,285.8,739.7,284.6,740.8,284.6C742.3,284.6,743.9,284.8,745.4,285.1C746.7,285.4,747.9,308.0,749.2,308.0C750.9,308.0,752.6,305.9,754.3,304.5C755.3,303.7,756.4,302.7,757.4,301.8C758.4,300.9,759.5,299.9,760.5,299.0C761.5,298.1,762.6,296.3,763.6,296.3C764.4,296.3,765.1,299.8,765.9,299.8C767.9,299.8,769.8,292.7,771.8,291.2C772.8,290.4,773.9,290.4,774.9,289.9C775.9,289.5,777.0,289.1,778.0,288.7C779.0,288.2,780.1,287.4,781.1,287.4C782.0,287.4,783.0,318.5,783.9,318.5C784.8,318.5,785.6,297.5,786.5,297.5C787.2,297.5,787.9,304.5,788.6,304.5C791.2,304.5,793.7,300.7,796.3,298.2C797.5,297.1,798.6,294.5,799.8,294.5C801.4,294.5,802.9,309.2,804.5,311.3C805.5,312.6,806.5,312.6,807.4,313.2C808.4,313.9,809.4,314.5,810.4,315.2C811.3,315.8,812.3,315.8,813.3,317.1C814.7,318.9,816.1,328.9,817.5,333.5C818.8,337.9,820.2,344.4,821.5,344.4C822.4,344.4,823.3,340.8,824.2,339.0C825.1,337.2,826.0,335.5,826.9,333.7C827.8,331.9,828.7,328.3,829.6,328.3C830.4,328.3,831.2,333.0,832.0,333.0C832.9,333.0,833.9,329.5,834.8,329.5C836.2,329.5,837.6,340.5,839.0,340.5C841.3,340.5,843.7,340.5,846.0,340.5C847.2,340.5,848.3,344.0,849.5,344.0C850.0,344.0,850.6,342.8,851.1,342.8C852.1,342.8,853.1,348.2,854.1,348.2C854.9,348.2,855.7,341.6,856.5,341.6C859.1,341.6,861.6,343.5,864.2,343.5C865.1,343.5,866.1,338.6,867.0,338.6C868.3,338.6,869.6,351.0,870.9,351.0C871.9,351.0,873.0,344.2,874.0,341.6C876.3,335.7,878.7,332.3,881.0,332.3C882.5,332.3,884.1,338.1,885.6,338.1C887.3,338.1,889.1,325.5,890.8,321.8C893.2,316.7,895.6,314.1,898.0,314.1C898.7,314.1,899.4,316.0,900.1,316.0C900.9,316.0,901.6,305.0,902.4,305.0C903.2,305.0,904.0,321.3,904.8,321.3C905.4,321.3,906.0,318.3,906.6,318.3C907.6,318.3,908.6,320.4,909.6,321.4C910.6,322.4,911.6,323.5,912.7,324.5C913.7,325.5,914.7,326.6,915.7,327.6C916.7,328.6,917.7,330.7,918.7,330.7C920.1,330.7,921.5,314.3,922.9,311.3C923.8,309.4,924.6,309.0,925.5,308.5C926.8,307.7,928.2,307.3,929.5,307.3C930.5,307.3,931.5,307.8,932.5,308.8C933.2,309.5,933.9,311.3,934.6,312.5" stroke="limegreen" stroke-width="1.05"/>
</g>
</svg>
</body></html>
